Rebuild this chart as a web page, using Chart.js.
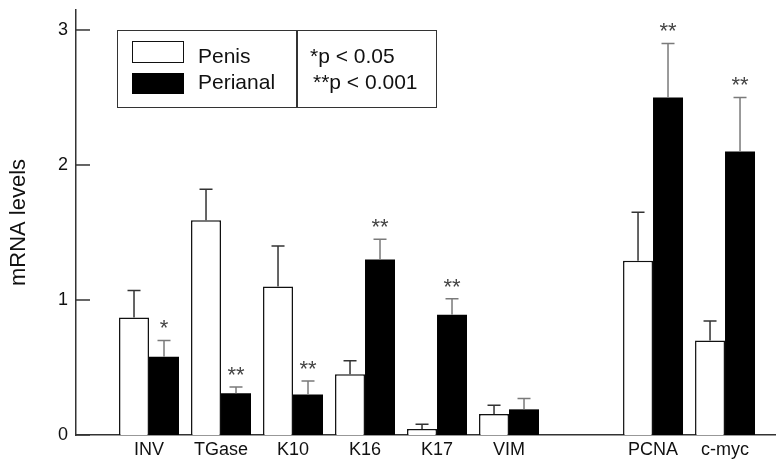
<!DOCTYPE html>
<html>
<head>
<meta charset="utf-8">
<script src="https://cdn.jsdelivr.net/npm/chart.js@4.4.1/dist/chart.umd.min.js"></script>
<style>
  html, body { margin: 0; padding: 0; background: #fff; }
  #wrap { position: relative; width: 776px; height: 461px; }
  #wrap canvas { position: absolute; left: 0; top: 0; }
  .lg { position: absolute; box-sizing: border-box; }
  .lg-text { position: absolute; font: 21px/21px "Liberation Sans", Arial, Helvetica, sans-serif; color: #111; white-space: nowrap; }
</style>
</head>
<body>
<div id="wrap">
  <canvas id="chart" width="776" height="461"></canvas>
  <div class="lg" style="left:117px;top:30px;width:320px;height:78px;border:1.5px solid #333;"></div>
  <div class="lg" style="left:296px;top:30px;width:1.5px;height:78px;background:#333;"></div>
  <div class="lg" style="left:132px;top:41px;width:52px;height:22px;border:1.5px solid #111;background:#fff;"></div>
  <div class="lg" style="left:132px;top:73px;width:52px;height:21px;background:#000;"></div>
  <span class="lg-text" style="left:198px;top:44.5px;">Penis</span>
  <span class="lg-text" style="left:198px;top:71px;">Perianal</span>
  <span class="lg-text" style="left:310px;top:44.5px;">*p &lt; 0.05</span>
  <span class="lg-text" style="left:313px;top:71px;">**p &lt; 0.001</span>
</div>
<script>
// categories ('' is the empty slot between VIM and PCNA)
const categories = ['INV', 'TGase', 'K10', 'K16', 'K17', 'VIM', '', 'PCNA', 'c-myc'];
const penis = [0.87, 1.59, 1.10, 0.45, 0.045, 0.155, null, 1.29, 0.70];
const penisErr = [0.20, 0.23, 0.30, 0.10, 0.035, 0.065, null, 0.36, 0.145];
const perianal = [0.58, 0.31, 0.30, 1.30, 0.89, 0.19, null, 2.50, 2.10];
const perianalErr = [0.12, 0.045, 0.10, 0.15, 0.12, 0.08, null, 0.40, 0.40];
const perianalMarks = ['*', '**', '**', '**', '**', '', '', '**', '**'];
const yTicks = [0, 1, 2, 3];

const FONT = '"Liberation Sans", Arial, Helvetica, sans-serif';

const toPoints = vals => vals.map((v, i) => ({x: i, y: v})).filter(p => p.y !== null);

// error whiskers + significance stars
const errorBars = {
  id: 'errorBars',
  afterDatasetsDraw(chart) {
    const {ctx, scales: {y}} = chart;
    chart.data.datasets.forEach((ds, d) => {
      const meta = chart.getDatasetMeta(d);
      meta.data.forEach((bar, j) => {
        const p = ds.data[j];
        const top = y.getPixelForValue(p.y + ds.errors[p.x]);
        ctx.save();
        ctx.strokeStyle = ds.errorColor;
        ctx.lineWidth = 1.5;
        ctx.beginPath();
        ctx.moveTo(bar.x, bar.y);
        ctx.lineTo(bar.x, top);
        ctx.moveTo(bar.x - 6.5, top);
        ctx.lineTo(bar.x + 6.5, top);
        ctx.stroke();
        const mark = ds.marks && ds.marks[p.x];
        if (mark) {
          ctx.font = '22px ' + FONT;
          ctx.fillStyle = '#444';
          ctx.textAlign = 'center';
          ctx.textBaseline = 'alphabetic';
          const m = ctx.measureText(mark);
          const cy = top - 16;
          ctx.fillText(mark, bar.x, cy + (m.actualBoundingBoxAscent - m.actualBoundingBoxDescent) / 2);
        }
        ctx.restore();
      });
    });
  }
};

// y ticks point inward
const innerTicks = {
  id: 'innerTicks',
  afterDraw(chart) {
    const {ctx, chartArea, scales: {y}} = chart;
    ctx.save();
    ctx.strokeStyle = '#333';
    ctx.lineWidth = 1.5;
    y.ticks.forEach(t => {
      const py = y.getPixelForValue(t.value);
      ctx.beginPath();
      ctx.moveTo(chartArea.left, py);
      ctx.lineTo(chartArea.left + 14, py);
      ctx.stroke();
    });
    ctx.restore();
  }
};

new Chart(document.getElementById('chart'), {
  type: 'bar',
  data: {
    datasets: [{
      label: 'Penis',
      data: toPoints(penis),
      errors: penisErr,
      errorColor: '#333',
      backgroundColor: '#fff',
      borderColor: '#111',
      borderWidth: 1.5,
      categoryPercentage: 0.833,
      barPercentage: 1
    }, {
      label: 'Perianal',
      data: toPoints(perianal),
      errors: perianalErr,
      marks: perianalMarks,
      errorColor: '#7a7a7a',
      backgroundColor: '#000',
      borderWidth: 0,
      categoryPercentage: 0.833,
      barPercentage: 1
    }]
  },
  options: {
    responsive: false,
    animation: false,
    layout: {padding: {top: 10, left: 0, right: 0, bottom: 0}},
    plugins: {legend: {display: false}, tooltip: {enabled: false}},
    scales: {
      x: {
        type: 'linear',
        offset: false,
        min: -1.014,
        max: 8.708,
        grid: {display: false, drawTicks: false},
        border: {display: true, color: '#333', width: 1.5},
        ticks: {
          autoSkip: false,
          maxRotation: 0,
          padding: 4,
          color: '#111',
          font: {family: FONT, size: 18},
          callback: v => categories[v]
        },
        afterBuildTicks: scale => {
          scale.ticks = categories.map((c, i) => ({value: i, label: c})).filter(t => t.label);
        },
        afterFit: scale => {
          scale.height = 26;
          scale.paddingLeft = 0;
          scale.paddingRight = 0;
        }
      },
      y: {
        min: 0,
        max: 3.148,
        grid: {display: false, drawTicks: false},
        border: {display: true, color: '#333', width: 1.5},
        ticks: {
          padding: 8,
          color: '#111',
          font: {family: FONT, size: 18}
        },
        title: {
          display: true,
          text: 'mRNA levels',
          color: '#111',
          font: {family: FONT, size: 22},
          padding: {top: 6, bottom: 0}
        },
        afterBuildTicks: scale => {
          scale.ticks = yTicks.map(v => ({value: v}));
        },
        afterFit: scale => {
          scale.width = 76;
          scale.paddingTop = 0;
          scale.paddingBottom = 0;
        }
      }
    }
  },
  plugins: [errorBars, innerTicks]
});
</script>
</body>
</html>
